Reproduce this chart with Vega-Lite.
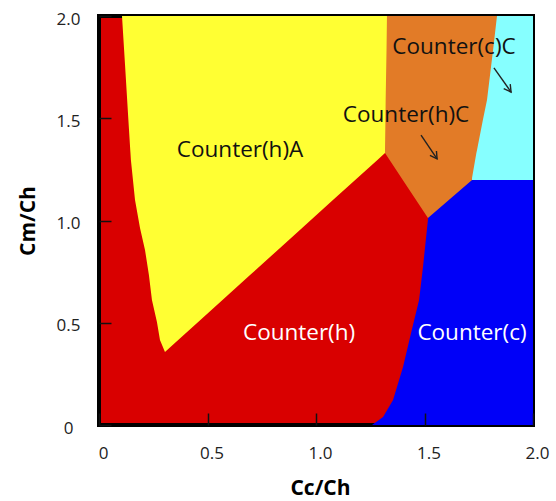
{
  "$schema": "https://vega.github.io/schema/vega-lite/v6.json",
  "width": 434,
  "height": 409,
  "autosize": {"type": "none"},
  "padding": {"left": 99, "top": 16, "right": 23, "bottom": 76},
  "background": "white",
  "view": {"fill": "#D90000", "stroke": "black", "strokeWidth": 4},
  "config": {"font": "Open Sans"},
  "datasets": {
    "cyan": [
      {"y": 1.19, "x": 1.6, "x2": 2},
      {"y": 2.0, "x": 1.6, "x2": 2}
    ],
    "blue": [
      {"y": 0.0, "x": 1.258, "x2": 2},
      {"y": 0.039, "x": 1.309, "x2": 2},
      {"y": 0.122, "x": 1.355, "x2": 2},
      {"y": 0.284, "x": 1.401, "x2": 2},
      {"y": 0.45, "x": 1.438, "x2": 2},
      {"y": 0.611, "x": 1.475, "x2": 2},
      {"y": 0.773, "x": 1.493, "x2": 2},
      {"y": 1.005, "x": 1.516, "x2": 2},
      {"y": 1.198, "x": 1.516, "x2": 2}
    ],
    "yellow": [
      {"y": 0.357, "x": 0.304, "x2": 0.304},
      {"y": 0.416, "x": 0.281, "x2": 0.365},
      {"y": 0.504, "x": 0.267, "x2": 0.457},
      {"y": 0.611, "x": 0.244, "x2": 0.569},
      {"y": 0.733, "x": 0.23, "x2": 0.696},
      {"y": 0.856, "x": 0.212, "x2": 0.824},
      {"y": 0.963, "x": 0.189, "x2": 0.936},
      {"y": 1.1, "x": 0.166, "x2": 1.078},
      {"y": 1.296, "x": 0.147, "x2": 1.283},
      {"y": 1.33, "x": 0.145, "x2": 1.318},
      {"y": 1.345, "x": 0.144, "x2": 1.36},
      {"y": 1.516, "x": 0.134, "x2": 1.36},
      {"y": 1.76, "x": 0.12, "x2": 1.36},
      {"y": 2.0, "x": 0.106, "x2": 1.36}
    ],
    "orange": [
      {"y": 1.012, "x": 1.516, "x2": 1.516},
      {"y": 1.198, "x": 1.4, "x2": 1.719},
      {"y": 1.208, "x": 1.394, "x2": 1.719},
      {"y": 1.33, "x": 1.318, "x2": 1.739},
      {"y": 1.345, "x": 1.318, "x2": 1.742},
      {"y": 1.491, "x": 1.32, "x2": 1.769},
      {"y": 1.589, "x": 1.321, "x2": 1.788},
      {"y": 1.834, "x": 1.325, "x2": 1.816},
      {"y": 2.0, "x": 1.327, "x2": 1.834}
    ],
    "arrows": [
      {"seg": "c-shaft", "o": 1, "x": 1.82, "y": 1.746},
      {"seg": "c-shaft", "o": 2, "x": 1.899, "y": 1.628},
      {"seg": "c-head", "o": 1, "x": 1.895, "y": 1.667},
      {"seg": "c-head", "o": 2, "x": 1.899, "y": 1.628},
      {"seg": "c-head", "o": 3, "x": 1.865, "y": 1.645},
      {"seg": "h-shaft", "o": 1, "x": 1.484, "y": 1.418},
      {"seg": "h-shaft", "o": 2, "x": 1.558, "y": 1.301},
      {"seg": "h-head", "o": 1, "x": 1.555, "y": 1.34},
      {"seg": "h-head", "o": 2, "x": 1.558, "y": 1.301},
      {"seg": "h-head", "o": 3, "x": 1.525, "y": 1.318}
    ],
    "labels": [
      {"label": "Counter(h)A", "x": 0.65, "y": 1.345, "tone": "dark"},
      {"label": "Counter(h)C", "x": 1.415, "y": 1.516, "tone": "dark"},
      {"label": "Counter(c)C", "x": 1.636, "y": 1.848, "tone": "dark"},
      {"label": "Counter(h)", "x": 0.922, "y": 0.45, "tone": "light"},
      {"label": "Counter(c)", "x": 1.719, "y": 0.45, "tone": "light"}
    ]
  },
  "layer": [
    {
      "data": {"name": "cyan"},
      "mark": {"type": "area", "orient": "horizontal", "color": "#86FFFF", "opacity": 1},
      "encoding": {
        "y": {
          "field": "y", "type": "quantitative",
          "scale": {"domain": [0, 2], "nice": false, "zero": false},
          "axis": {
            "title": "Cm/Ch",
            "values": [0, 0.5, 1, 1.5, 2],
            "labelExpr": "datum.value == 0 ? '0' : format(datum.value, '.1f')",
            "domain": false, "grid": false, "offset": -12,
            "ticks": true,
            "tickSize": 12, "tickColor": "#111", "tickWidth": 1.5,
            "labelFontSize": 17, "labelColor": "#222", "labelPadding": 31,
            "labelBaseline": "middle", "labelAlign": "center", "labelFlush": false, "labelOverlap": false,
            "labelOffset": 3,
            "titleFontSize": 21, "titleFontWeight": "bold", "titleColor": "black",
            "titleX": -83, "titleY": 204.5, "titleBaseline": "middle", "titleAlign": "center", "titleAngle": -90,
            "zindex": 1
          }
        },
        "x": {
          "field": "x", "type": "quantitative",
          "scale": {"domain": [0, 2], "nice": false, "zero": false},
          "axis": {
            "title": "Cc/Ch",
            "values": [0, 0.5, 1, 1.5, 2],
            "labelExpr": "datum.value == 0 ? '0' : format(datum.value, '.1f')",
            "domain": false, "grid": false, "offset": -12,
            "ticks": true,
            "tickSize": 12, "tickColor": "#111", "tickWidth": 1.5,
            "labelFontSize": 17, "labelColor": "#222", "labelPadding": 28,
            "labelBaseline": "middle", "labelAlign": "center", "labelFlush": false, "labelOverlap": false,
            "labelOffset": 4,
            "titleFontSize": 21, "titleFontWeight": "bold", "titleColor": "black",
            "titleX": 221, "titleY": 75, "titleBaseline": "middle", "titleAlign": "center",
            "zindex": 1
          }
        },
        "x2": {"field": "x2"}
      }
    },
    {
      "data": {"name": "blue"},
      "mark": {"type": "area", "orient": "horizontal", "color": "#0000F8", "opacity": 1},
      "encoding": {
        "y": {"field": "y", "type": "quantitative"},
        "x": {"field": "x", "type": "quantitative"},
        "x2": {"field": "x2"}
      }
    },
    {
      "data": {"name": "yellow"},
      "mark": {"type": "area", "orient": "horizontal", "color": "#FFFF33", "opacity": 1},
      "encoding": {
        "y": {"field": "y", "type": "quantitative"},
        "x": {"field": "x", "type": "quantitative"},
        "x2": {"field": "x2"}
      }
    },
    {
      "data": {"name": "orange"},
      "mark": {"type": "area", "orient": "horizontal", "color": "#E27B27", "opacity": 1},
      "encoding": {
        "y": {"field": "y", "type": "quantitative"},
        "x": {"field": "x", "type": "quantitative"},
        "x2": {"field": "x2"}
      }
    },
    {
      "data": {"name": "arrows"},
      "mark": {"type": "line", "color": "#222", "strokeWidth": 1.4},
      "encoding": {
        "x": {"field": "x", "type": "quantitative"},
        "y": {"field": "y", "type": "quantitative"},
        "detail": {"field": "seg", "type": "nominal"},
        "order": {"field": "o", "type": "quantitative"}
      }
    },
    {
      "data": {"name": "labels"},
      "transform": [{"filter": "datum.tone == 'dark'"}],
      "mark": {"type": "text", "fontSize": 22.5, "color": "#111", "align": "center", "baseline": "middle", "font": "Open Sans"},
      "encoding": {
        "x": {"field": "x", "type": "quantitative"},
        "y": {"field": "y", "type": "quantitative"},
        "text": {"field": "label"}
      }
    },
    {
      "data": {"name": "labels"},
      "transform": [{"filter": "datum.tone == 'light'"}],
      "mark": {"type": "text", "fontSize": 22.5, "color": "white", "align": "center", "baseline": "middle", "font": "Open Sans"},
      "encoding": {
        "x": {"field": "x", "type": "quantitative"},
        "y": {"field": "y", "type": "quantitative"},
        "text": {"field": "label"}
      }
    }
  ]
}
